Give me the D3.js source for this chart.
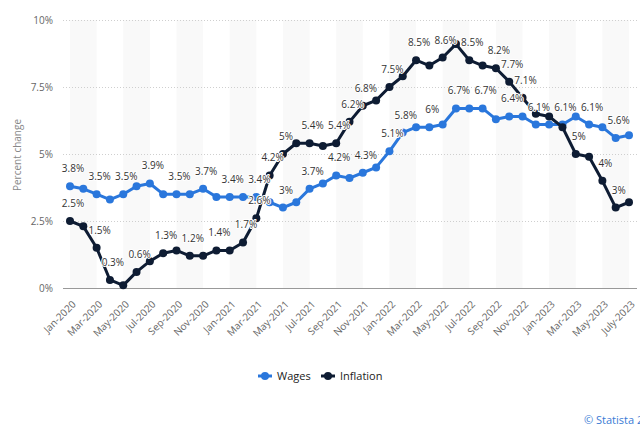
<!DOCTYPE html>
<html>
<head>
<meta charset="utf-8">
<script src="https://cdn.jsdelivr.net/npm/d3@7"></script>
<style>
  html, body { margin: 0; padding: 0; background: #fff; }
  svg { display: block; }
</style>
</head>
<body>
<svg id="chart" width="640" height="443"></svg>
<script>
const months = [
  "Jan-2020","Feb-2020","Mar-2020","Apr-2020","May-2020","Jun-2020","Jul-2020","Aug-2020","Sep-2020","Oct-2020","Nov-2020","Dec-2020",
  "Jan-2021","Feb-2021","Mar-2021","Apr-2021","May-2021","Jun-2021","Jul-2021","Aug-2021","Sep-2021","Oct-2021","Nov-2021","Dec-2021",
  "Jan-2022","Feb-2022","Mar-2022","Apr-2022","May-2022","Jun-2022","Jul-2022","Aug-2022","Sep-2022","Oct-2022","Nov-2022","Dec-2022",
  "Jan-2023","Feb-2023","Mar-2023","Apr-2023","May-2023","Jun-2023","July-2023"
];
const wages = [
  3.8,3.7,3.5,3.3,3.5,3.8,3.9,3.5,3.5,3.5,3.7,3.4,
  3.4,3.4,3.4,3.2,3.0,3.2,3.7,3.9,4.2,4.1,4.3,4.5,
  5.1,5.8,6.0,6.0,6.1,6.7,6.7,6.7,6.3,6.4,6.4,6.1,
  6.1,6.1,6.4,6.1,6.0,5.6,5.7
];
const inflation = [
  2.5,2.3,1.5,0.3,0.1,0.6,1.0,1.3,1.4,1.2,1.2,1.4,
  1.4,1.7,2.6,4.2,5.0,5.4,5.4,5.3,5.4,6.2,6.8,7.0,
  7.5,7.9,8.5,8.3,8.6,9.1,8.5,8.3,8.2,7.7,7.1,6.5,
  6.4,6.0,5.0,4.9,4.0,3.0,3.2
];
// indices of points that show a value label in the original
const wagesLabeled = [0,2,4,6,8,10,12,14,16,18,20,22,24,25,27,29,31,33,35,37,39,41];
const inflationLabeled = [0,2,3,5,7,9,11,13,14,15,16,18,20,21,22,24,26,28,30,32,33,34,38,40,41];
const yTicks = [0, 2.5, 5, 7.5, 10];
const seriesNames = ["Wages", "Inflation"];
const seriesColors = ["#2a77dc", "#0e1c33"];

const svg = d3.select("#chart");
const plotLeft = 63, plotRight = 637, plotTop = 20, plotBottom = 288;

const x = d3.scalePoint().domain(months).range([70, 629]);
const y = d3.scaleLinear().domain([0, 10]).range([plotBottom, plotTop]);
const step = x.step();

// alternating bands
const bands = svg.append("g");
months.forEach((m, i) => {
  if (i % 4 === 0 && i + 2 < months.length) {
    bands.append("rect")
      .attr("x", x(m)).attr("y", plotTop)
      .attr("width", step * 2).attr("height", plotBottom - plotTop)
      .attr("fill", "#f9f9f9");
  }
});

// gridlines
const grid = svg.append("g");
yTicks.filter(t => t > 0).forEach(t => {
  grid.append("line")
    .attr("x1", plotLeft).attr("x2", plotRight)
    .attr("y1", y(t) + 0.5).attr("y2", y(t) + 0.5)
    .attr("stroke", "#cfcfcf").attr("stroke-width", 1)
    .attr("stroke-dasharray", "1,2");
});

// y axis labels
const yAxis = d3.axisLeft(y).tickValues(yTicks).tickSize(0).tickFormat(d => d + "%");
const yg = svg.append("g").attr("transform", `translate(53,0)`).call(yAxis);
yg.select(".domain").remove();
yg.selectAll("text")
  .attr("x", 0).attr("dy", "0.35em")
  .attr("fill", "#666").attr("font-size", "10px")
  .attr("font-family", "'Open Sans', sans-serif");

// y title
svg.append("text")
  .attr("transform", `translate(21,155) rotate(-90)`)
  .attr("text-anchor", "middle")
  .attr("fill", "#888").attr("font-size", "10px")
  .attr("font-family", "'Open Sans', sans-serif")
  .text("Percent change");

// x axis line
svg.append("line")
  .attr("x1", plotLeft).attr("x2", plotRight)
  .attr("y1", plotBottom + 0.5).attr("y2", plotBottom + 0.5)
  .attr("stroke", "#999").attr("stroke-width", 1.2);

// x labels
const xAxis = d3.axisBottom(x).tickValues(months.filter((m, i) => i % 2 === 0)).tickSize(0);
const xg = svg.append("g").attr("transform", `translate(0,${plotBottom})`).call(xAxis);
xg.select(".domain").remove();
xg.selectAll(".tick text")
  .attr("text-anchor", "end")
  .attr("x", 0).attr("y", 0).attr("dy", 0)
  .attr("transform", "translate(6,17) rotate(-45)")
  .attr("fill", "#666").attr("font-size", "10px")
  .attr("font-family", "'Open Sans', sans-serif");

// lines
const allSeries = [wages, inflation];
const line = d3.line().x((d, i) => x(months[i])).y(d => y(d));
allSeries.forEach((vals, s) => {
  svg.append("path")
    .datum(vals)
    .attr("d", line)
    .attr("fill", "none")
    .attr("stroke", seriesColors[s])
    .attr("stroke-width", 3)
    .attr("stroke-linejoin", "round");
  svg.append("g").selectAll("circle")
    .data(vals).enter().append("circle")
    .attr("cx", (d, i) => x(months[i]))
    .attr("cy", d => y(d))
    .attr("r", 4)
    .attr("fill", seriesColors[s]);
});

// data labels
const fmt = v => (Math.round(v * 10) / 10) + "%";
[[wages, wagesLabeled], [inflation, inflationLabeled]].forEach(([vals, idxs]) => {
  svg.append("g").selectAll("text")
    .data(idxs).enter().append("text")
    .attr("x", i => x(months[i]) + 3)
    .attr("y", i => y(vals[i]) - 14)
    .attr("text-anchor", "middle")
    .attr("font-size", "10px")
    .attr("font-family", "'Open Sans', sans-serif")
    .attr("fill", "#333")
    .attr("stroke", "#fff").attr("stroke-width", 2)
    .attr("paint-order", "stroke")
    .attr("stroke-linejoin", "round")
    .text(i => fmt(vals[i]));
});

// legend
const legend = svg.append("g");
const legendItems = [{x: 258, textX: 277}, {x: 321, textX: 340}];
seriesNames.forEach((name, s) => {
  const it = legendItems[s];
  legend.append("line")
    .attr("x1", it.x).attr("x2", it.x + 14)
    .attr("y1", 376).attr("y2", 376)
    .attr("stroke", seriesColors[s]).attr("stroke-width", 3);
  legend.append("circle")
    .attr("cx", it.x + 7).attr("cy", 376).attr("r", 4)
    .attr("fill", seriesColors[s]);
  legend.append("text")
    .attr("x", it.textX).attr("y", 376).attr("dy", "0.35em")
    .attr("font-size", "11px")
    .attr("font-family", "'Open Sans', sans-serif")
    .attr("fill", "#222")
    .text(name);
});

// credit (cut off at the right edge, as in the original)
svg.append("text")
  .attr("x", 584).attr("y", 424)
  .attr("font-size", "11px")
  .attr("font-family", "'Open Sans', sans-serif")
  .attr("fill", "#3a7bd5")
  .text("© Statista 2023");
</script>
</body>
</html>
